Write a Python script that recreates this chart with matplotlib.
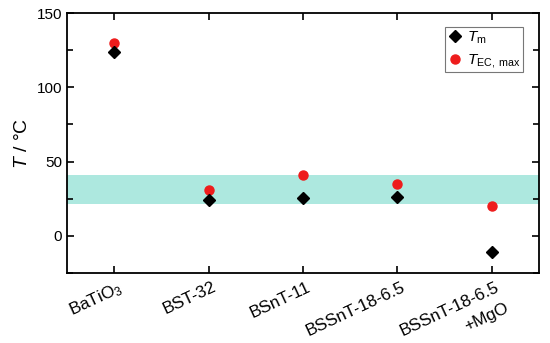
import matplotlib
matplotlib.use('Agg')
import matplotlib.pyplot as plt
import numpy as np
from matplotlib.ticker import MultipleLocator

plt.rcParams['font.family'] = ['Liberation Sans', 'DejaVu Sans']
plt.rcParams['mathtext.fontset'] = 'custom'
plt.rcParams['mathtext.rm'] = 'Liberation Sans'
plt.rcParams['mathtext.it'] = 'Liberation Sans:italic'

samples = ['BaTiO$_3$', 'BST-32', 'BSnT-11', 'BSSnT-18-6.5', 'BSSnT-18-6.5\n+MgO']
t_m = [124, 24, 25.5, 26.5, -11]
t_ec_max = [129.5, 31, 41, 35, 20]
band_lo, band_hi = 21.5, 41

x = np.arange(len(samples))

fig = plt.figure(figsize=(5.5, 3.43), dpi=100)
ax = fig.add_axes([0.122, 0.204, 0.858, 0.758])

ax.axhspan(band_lo, band_hi, color='#ade8df', lw=0, zorder=0)
ax.plot(x, t_m, ls='none', marker='D', ms=6, color='black', label='$T_\\mathrm{m}$', zorder=3)
ax.plot(x, t_ec_max, ls='none', marker='o', ms=6.5, color='#ee1c1c',
        label='$T_\\mathrm{EC,\\ max}$', zorder=2)

ax.set_xlim(-0.5, 4.5)
ax.set_ylim(-25, 150)
ax.set_xticks(x)
ax.set_xticklabels([])

# rotated category labels, anchored at their upper right corner just right of the tick;
# each line drawn on its own, stepped down along the rotated text direction
rot = 25
step = 16.5  # line step in points
for xi, name in zip(x, samples):
    for i, line in enumerate(name.split('\n')):
        dx = 2.5 + i * step * np.sin(np.radians(rot))
        dy = -4.5 - i * step * np.cos(np.radians(rot))
        ax.annotate(line, xy=(xi, 0), xycoords=('data', 'axes fraction'),
                    xytext=(dx, dy), textcoords='offset points',
                    rotation=rot, ha='right', va='top', rotation_mode='anchor',
                    fontsize=12.3, annotation_clip=False)

ax.yaxis.set_major_locator(MultipleLocator(50))
ax.yaxis.set_minor_locator(MultipleLocator(25))
ax.tick_params(axis='both', which='both', direction='in', top=True, right=True, width=1.2)
ax.tick_params(axis='both', which='major', length=5)
ax.tick_params(axis='y', which='major', labelsize=11)
ax.tick_params(axis='y', which='minor', length=4)
for s in ax.spines.values():
    s.set_linewidth(1.3)

ax.set_ylabel('$T$ / °C', fontsize=14)

leg = ax.legend(loc='upper right', bbox_to_anchor=(0.966, 0.946), borderaxespad=0,
                fontsize=11, frameon=True, fancybox=False, edgecolor='#555555',
                handletextpad=0.3, handlelength=1.0, borderpad=0.15, labelspacing=0.4)
leg.get_frame().set_linewidth(0.8)

plt.savefig('out.png', dpi=100)
